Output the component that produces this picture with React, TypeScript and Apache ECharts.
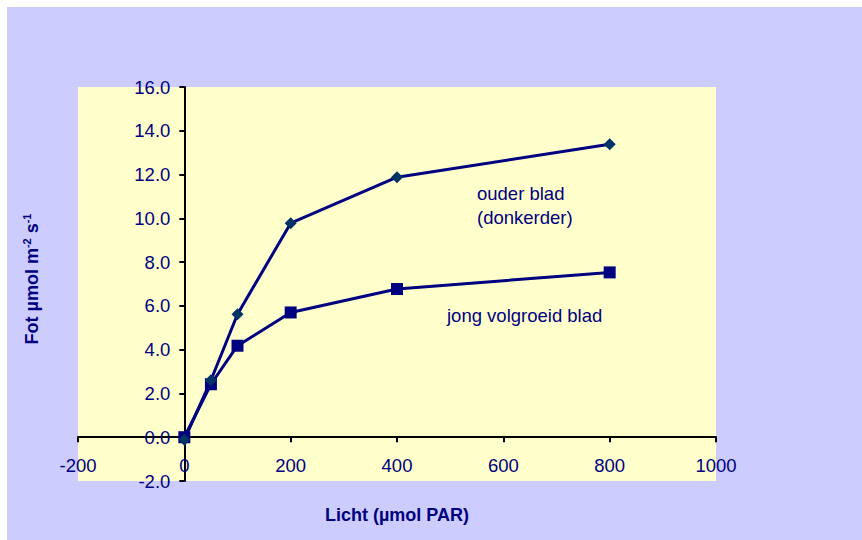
import React, { useEffect, useRef } from "react";
import * as echarts from "echarts";

const lightLevels = [0, 50, 100, 200, 400, 800];
const ouderBlad = [-0.12, 2.6, 5.62, 9.78, 11.88, 13.38];
const jongBlad = [0.0, 2.42, 4.18, 5.7, 6.77, 7.53];
const xTicks = { min: -200, max: 1000, interval: 200 };
const yTicks = { min: -2, max: 16, interval: 2 };

const FONT = "'Liberation Sans', Arial, sans-serif";
const NAVY = "#000080";
const GRID = { left: 71, top: 80, width: 638, height: 394 };

export default function App() {
  const ref = useRef<HTMLDivElement>(null);
  useEffect(() => {
    if (!ref.current) return;
    const chart = echarts.init(ref.current, undefined, { renderer: "svg" });
    const xZeroOffset = ((0 - yTicks.min) / (yTicks.max - yTicks.min)) * GRID.height;
    const yZeroOffset = ((0 - xTicks.min) / (xTicks.max - xTicks.min)) * GRID.width;
    chart.setOption({
      animation: false,
      backgroundColor: "#CCCCFF",
      grid: {
        ...GRID,
        show: true,
        backgroundColor: "#FFFFCC",
        borderWidth: 0,
      },
      xAxis: {
        type: "value",
        position: "bottom",
        offset: -xZeroOffset,
        min: xTicks.min,
        max: xTicks.max,
        interval: xTicks.interval,
        splitLine: { show: false },
        axisLine: { onZero: false, lineStyle: { color: "#000", width: 2 } },
        axisTick: { show: true, length: 5, lineStyle: { color: "#000", width: 2 } },
        axisLabel: {
          color: NAVY,
          fontSize: 18.5,
          fontFamily: FONT,
          margin: 19,
          formatter: (v: number) => String(v),
        },
      },
      yAxis: {
        type: "value",
        position: "left",
        offset: -yZeroOffset,
        min: yTicks.min,
        max: yTicks.max,
        interval: yTicks.interval,
        splitLine: { show: false },
        axisLine: { onZero: false, lineStyle: { color: "#000", width: 2 } },
        axisTick: { show: true, length: 5, lineStyle: { color: "#000", width: 2 } },
        axisLabel: {
          color: NAVY,
          fontSize: 18.5,
          fontFamily: FONT,
          margin: 14,
          formatter: (v: number) => v.toFixed(1),
        },
      },
      graphic: [
        {
          type: "text",
          x: 25,
          y: 272,
          rotation: Math.PI / 2,
          style: {
            text: "{b|Fot µmol m}{s|-2}{b| s}{s|-1}",
            align: "center",
            verticalAlign: "middle",
            rich: {
              b: { fontSize: 18, fontWeight: "bold", fontFamily: FONT, fill: NAVY, lineHeight: 22 },
              s: { fontSize: 11, fontWeight: "bold", fontFamily: FONT, fill: NAVY, verticalAlign: "top", lineHeight: 22 },
            },
          },
        },
        {
          type: "text",
          x: 390,
          y: 508,
          style: {
            text: "Licht (µmol PAR)",
            align: "center",
            verticalAlign: "middle",
            fontSize: 18,
            fontWeight: "bold",
            fontFamily: FONT,
            fill: NAVY,
          },
        },
        {
          type: "text",
          x: 470,
          y: 198,
          style: {
            text: "ouder blad\n(donkerder)",
            align: "left",
            verticalAlign: "middle",
            fontSize: 18.5,
            lineHeight: 24,
            fontFamily: FONT,
            fill: NAVY,
          },
        },
        {
          type: "text",
          x: 440,
          y: 308,
          style: {
            text: "jong volgroeid blad",
            align: "left",
            verticalAlign: "middle",
            fontSize: 18.5,
            fontFamily: FONT,
            fill: NAVY,
          },
        },
      ],
      series: [
        {
          name: "jong volgroeid blad",
          type: "line",
          data: lightLevels.map((x, i) => [x, jongBlad[i]]),
          symbol: "rect",
          symbolSize: 12,
          lineStyle: { color: NAVY, width: 3 },
          itemStyle: { color: NAVY },
          z: 2,
        },
        {
          name: "ouder blad",
          type: "line",
          data: lightLevels.map((x, i) => [x, ouderBlad[i]]),
          symbol: "diamond",
          symbolSize: 12,
          lineStyle: { color: NAVY, width: 3 },
          itemStyle: { color: "#003366" },
          z: 3,
        },
      ],
    });
    return () => chart.dispose();
  }, []);
  return (
    <div style={{ position: "fixed", left: 0, top: 0, width: 862, height: 540, background: "#fff" }}>
      <div ref={ref} style={{ position: "absolute", left: 7, top: 7, width: 855, height: 533 }} />
    </div>
  );
}
